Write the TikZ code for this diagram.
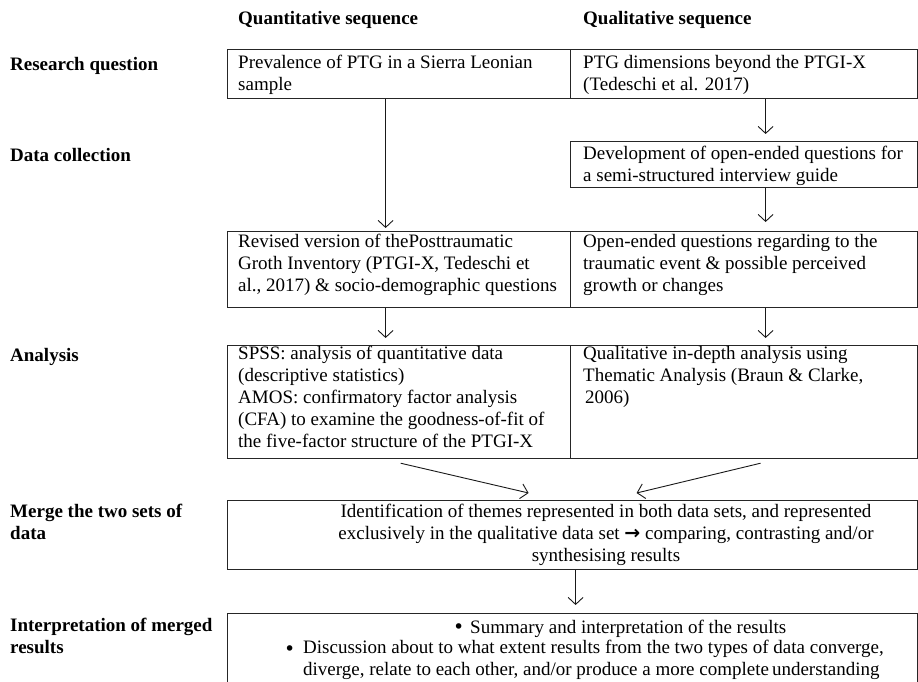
\documentclass[tikz,border=0pt]{standalone}
\usepackage{fontspec}
\setmainfont{Liberation Serif}
\newfontfamily\symfont{DejaVu Sans}
\usetikzlibrary{arrows.meta,calc}
\tikzset{
  box/.style={draw=black!85, line width=1.2pt, rectangle, inner sep=0pt, anchor=north west},
  txt/.style={font=\fontsize{19}{22}\selectfont, align=left, inner sep=0pt, anchor=north west,
              execute at begin node=\rule{0pt}{15pt}},
  hdr/.style={txt, font=\fontsize{19}{22}\selectfont\bfseries},
  bul/.style={txt, font=\fontsize{19}{22}\symfont},
  arr/.style={draw=black!90, line width=0.9pt, -{Straight Barb[length=7pt,width=15pt,line width=0.9pt]}}
}
\begin{document}
\begin{tikzpicture}[x=1pt,y=-1pt]
\useasboundingbox (0,0) rectangle (918,682);
\clip (0,0) rectangle (918,682);
\fill[white] (0,0) rectangle (918,682);

% headers
\node[hdr] (hq) at (238,9) {Quantitative sequence};
\node[hdr] (hl) at (583,9) {Qualitative sequence};

% row labels
\node[hdr] (l1) at (10,55) {Research question};
\node[hdr] (l2) at (10,146) {Data collection};
\node[hdr] (l3) at (10,346) {Analysis};
\node[hdr] (l4) at (10,504) {Merge the two sets of\\data};
\node[hdr] (l5) at (10,618) {Interpretation of merged\\results};

% boxes
\node[box, minimum width=343pt, minimum height=49pt] (rqL) at (227,49) {};
\node[box, minimum width=347pt, minimum height=49pt] (rqR) at (570,49) {};
\node[box, minimum width=347pt, minimum height=46pt] (dcR) at (570,141) {};
\node[box, minimum width=343pt, minimum height=76pt] (mdL) at (227,231) {};
\node[box, minimum width=347pt, minimum height=76pt] (mdR) at (570,231) {};
\node[box, minimum width=343pt, minimum height=113pt] (anL) at (227,345) {};
\node[box, minimum width=347pt, minimum height=113pt] (anR) at (570,345) {};
\node[box, minimum width=690pt, minimum height=69pt] (mg) at (227,500) {};
\node[box, minimum width=690pt, minimum height=120pt] (ip) at (227,613) {};

% box texts
\node[txt] (t1) at (238,55) {Prevalence of PTG in a Sierra Leonian\\sample};
\node[txt] (t2) at (583,55) {PTG dimensions beyond the PTGI-X\\(Tedeschi et al. 2017)};
\node[txt] (t3) at (583,146) {Development of open-ended questions for\\a semi-structured interview guide};
\node[txt] (t4) at (238,234) {Revised version of thePosttraumatic\\Groth Inventory (PTGI-X, Tedeschi et\\al., 2017) \& socio-demographic questions};
\node[txt] (t5) at (583,234) {Open-ended questions regarding to the\\traumatic event \& possible perceived\\growth or changes};
\node[txt] (t6) at (238,346) {SPSS: analysis of quantitative data\\(descriptive statistics)\\AMOS: confirmatory factor analysis\\(CFA) to examine the goodness-of-fit of\\the five-factor structure of the PTGI-X};
\node[txt] (t7) at (583,346) {Qualitative in-depth analysis using\\Thematic Analysis (Braun \& Clarke,\\\hspace{2pt}2006)};
\node[txt, align=center, anchor=north] (t8) at (606,504) {Identification of themes represented in both data sets, and represented\\exclusively in the qualitative data set {\symfont\bfseries →} comparing, contrasting and/or\\synthesising results};
\node[bul] (b1) at (453,618) {•};
\node[txt] (t9) at (470,618) {Summary and interpretation of the results};
\node[bul] (b2) at (284,640) {•};
\node[txt] (t10) at (303,640) {Discussion about to what extent results from the two types of data converge,\\diverge, relate to each other, and/or produce a more complete\hspace{3pt}understanding};

% connectors
\draw[arr, shorten >=7pt] ([xshift=21.5pt]rqR.south) -- ([xshift=21.5pt]dcR.north);
\draw[arr, shorten >=3pt] ([xshift=-13.5pt]rqL.south) -- ([xshift=-13.5pt]mdL.north);
\draw[arr, shorten >=9pt] ([xshift=21.5pt]dcR.south) -- ([xshift=21.5pt]mdR.north);
\draw[arr, shorten >=7pt] ([xshift=-13.5pt]mdL.south) -- ([xshift=-13.5pt]anL.north);
\draw[arr, shorten >=7pt] ([xshift=21.5pt]mdR.south) -- ([xshift=21.5pt]anR.north);
\draw[arr] ([xshift=1.5pt,yshift=-4pt]anL.south) -- ([xshift=-44pt,yshift=7pt]mg.north);
\draw[arr] ([xshift=16.5pt,yshift=-4pt]anR.south) -- ([xshift=64pt,yshift=7pt]mg.north);
\draw[arr, shorten >=8pt] ([xshift=3pt]mg.south) -- ([xshift=3pt]ip.north);
\end{tikzpicture}
\end{document}
